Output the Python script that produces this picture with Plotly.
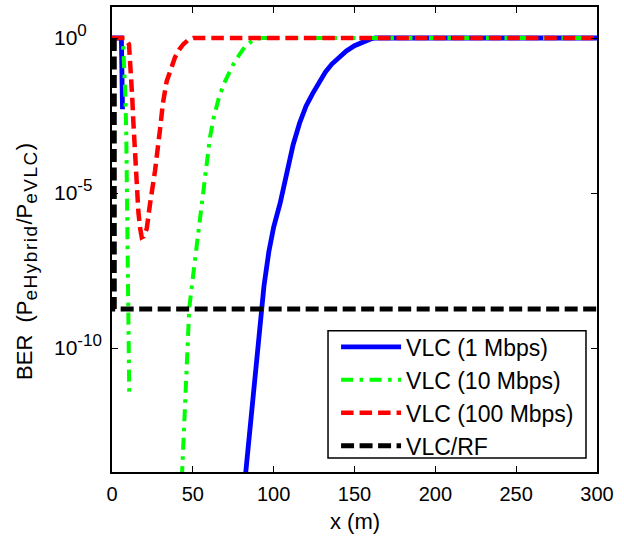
import math
import plotly.graph_objects as go

# ---------------- data ----------------
# VLC (1 Mbps): two visible branches (value falls to 0 in between -> not drawn on log axis)
x_1m_a = [0, 5.8, 6.5]
y_1m_a = [1, 1, 5e-3]
x_1m_b = [82, 85, 88, 91, 94, 97, 100, 104, 108, 112, 116, 120, 124, 128, 132, 136,
          140, 145, 150, 155, 160, 163, 300]
logy_1m_b = [-14.4, -12.7, -11.0, -9.4, -8.0, -6.9, -6.1, -5.33, -4.35, -3.45, -2.75,
             -2.2, -1.8, -1.42, -1.1, -0.84, -0.63, -0.42, -0.25, -0.12, -0.03, 0, 0]

# VLC (10 Mbps)
x_10m_a = [0, 6.3, 6.8, 7.5, 8.2, 8.8, 9.5, 10.1, 10.7]
logy_10m_a = [0, 0, -0.1, -0.8, -1.8, -3.0, -5.5, -8.0, -11.6]
x_10m_b = [43.2, 45, 47.8, 51, 54.4, 57.5, 60.6, 63, 66, 69, 72, 75, 78, 81, 84, 87,
           90, 93, 300]
logy_10m_b = [-14.2, -12.0, -8.7, -7.3, -5.9, -4.5, -3.2, -2.55, -1.95, -1.5, -1.15,
              -0.85, -0.6, -0.37, -0.2, -0.08, -0.02, 0, 0]

# VLC (100 Mbps)
x_100m = [0, 8, 10.5, 11.5, 12.5, 13.2, 14.3, 15.3, 16.3, 17.3, 18.4, 19.5, 21.5, 23.5,
          26.6, 29.7, 31.5, 33.8, 36.5, 39, 41.5, 44.1, 47, 50.3, 300]
logy_100m = [0, 0, -0.2, -0.9, -1.9, -2.7, -3.8, -4.9, -5.6, -6.1, -6.43, -6.4, -6.15,
             -5.36, -4.29, -2.95, -2.1, -1.4, -0.95, -0.62, -0.38, -0.2, -0.07, 0, 0]

# VLC/RF
x_rf = [1.4, 1.4, 300]
y_rf = [1, 1.8e-9, 1.8e-9]

series_names = ["VLC (1 Mbps)", "VLC (10 Mbps)", "VLC (100 Mbps)", "VLC/RF"]

x_ticks = [0, 50, 100, 150, 200, 250, 300]
y_tickvals = [1e-10, 1e-5, 1]
y_tick_exponents = ["-10", "-5", "0"]

# ---------------- figure ----------------
def p10(v):
    return [10 ** t for t in v]

FONT = "Liberation Sans, Arial, sans-serif"

fig = go.Figure()

blue = dict(color="#0000FF", width=4.8)
green = dict(color="#00FF00", width=4, dash="12px,6.5px,3.5px,6.5px")
red = dict(color="#FF0000", width=4.5, dash="12.5px,6px")
black = dict(color="#000000", width=5, dash="13px,5.5px")

fig.add_trace(go.Scatter(x=x_1m_a + [None] + x_1m_b,
                         y=y_1m_a + [None] + p10(logy_1m_b),
                         mode="lines", line=blue, name=series_names[0],
                         connectgaps=False))
fig.add_trace(go.Scatter(x=x_10m_a + [None] + x_10m_b,
                         y=p10(logy_10m_a) + [None] + p10(logy_10m_b),
                         mode="lines", line=green, name=series_names[1],
                         connectgaps=False))
fig.add_trace(go.Scatter(x=x_100m, y=p10(logy_100m), mode="lines", line=red,
                         name=series_names[2]))
fig.add_trace(go.Scatter(x=x_rf, y=y_rf, mode="lines", line=black,
                         name=series_names[3]))

axis_common = dict(
    showline=True, linecolor="black", linewidth=1.5, mirror="ticks",
    ticks="inside", ticklen=6, tickwidth=1.2, tickcolor="black",
    showgrid=False, zeroline=False,
    tickfont=dict(family=FONT, size=20, color="black"),
)

fig.update_xaxes(range=[0, 300], tickvals=x_ticks, ticklabelstandoff=3,
                 **axis_common)
fig.update_yaxes(type="log", range=[-14, 1], tickvals=y_tickvals,
                 showticklabels=False, **axis_common)

SUB = "<sub><span style='font-size:19px;letter-spacing:1.5px'>{}</span></sub>"
ylab = "BER  (P" + SUB.format("eHybrid") + "/P" + SUB.format("eVLC") + ")"

annotations = [
    dict(text="x (m)", xref="paper", yref="paper", x=0.5, y=-0.106,
         xanchor="center", yanchor="middle", showarrow=False,
         font=dict(family=FONT, size=22, color="black")),
    dict(text=ylab, xref="paper",
         yref="paper", x=-0.175, y=0.452, xanchor="center", yanchor="middle",
         textangle=-90, showarrow=False,
         font=dict(family=FONT, size=22, color="black")),
]
# left-aligned y tick labels (as in the reference)
for v, e in zip(y_tickvals, y_tick_exponents):
    annotations.append(dict(
        text="10<sup><span style='font-size:17px'>" + e + "</span></sup>",
        xref="paper", yref="y", x=-0.124, y=math.log10(v),
        xanchor="left", yanchor="middle", yshift=3, showarrow=False,
        font=dict(family=FONT, size=21, color="black")))

fig.update_layout(
    width=624, height=537,
    margin=dict(l=112, r=27, t=5, b=65),
    plot_bgcolor="white", paper_bgcolor="white",
    font=dict(family=FONT, size=20, color="black"),
    showlegend=True,
    legend=dict(
        x=0.462, y=0.315, xanchor="left", yanchor="top",
        bgcolor="rgba(0,0,0,0)", borderwidth=0,
        font=dict(family=FONT, size=23, color="black"),
        itemwidth=60, tracegroupgap=0,
    ),
    shapes=[
        dict(type="rect", xref="paper", yref="paper",
             x0=0.4454, x1=0.9773, y0=0.030, y1=0.304,
             line=dict(color="black", width=1.5), fillcolor="white",
             layer="below"),
    ],
    annotations=annotations,
)

fig.write_html("out.html")
